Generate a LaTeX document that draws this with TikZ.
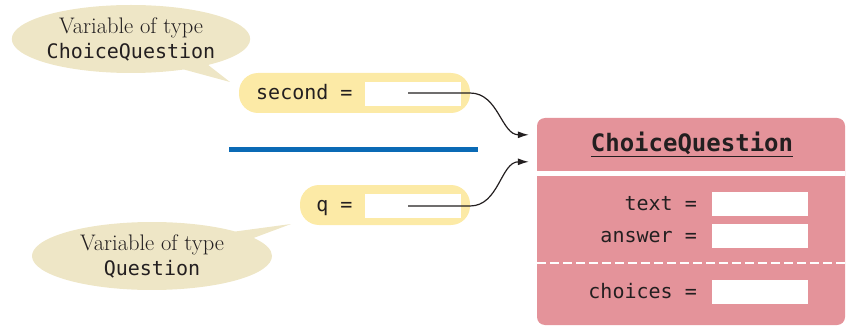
\documentclass[tikz,border=0pt]{standalone}
\usepackage{fontspec}
\newfontfamily\monofont{DejaVu Sans Mono}
\usetikzlibrary{arrows.meta, positioning, calc, shapes.callouts}
\definecolor{noteclr}{HTML}{EEE6C6}
\definecolor{pillclr}{HTML}{FCEAA6}
\definecolor{objclr}{HTML}{E4939A}
\definecolor{lineclr}{HTML}{0A6AB5}
\definecolor{inkclr}{HTML}{231F20}

\begin{document}
\begin{tikzpicture}[x=1pt,y=-1pt,
  txt/.style={font=\fontsize{20}{25}\selectfont\monofont, text=inkclr, inner sep=0pt},
  note/.style={ellipse callout, fill=noteclr, inner sep=0pt, callout pointer arc=14,
    align=center, text=inkclr, font=\fontsize{22.5}{25}\selectfont},
  pill/.style={fill=pillclr, rounded corners=19pt, inner sep=0pt, minimum height=40},
  valbox/.style={fill=white, inner sep=0pt, minimum width=96, minimum height=24},
  ref/.style={line width=1.2pt, draw=inkclr, -{Latex[length=11pt,width=7pt]}, shorten >=1pt}]
  \useasboundingbox (0,0) rectangle (846,326);
  % variables
  \node[pill, minimum width=231] (secondpill) at (354.5,93) {};
  \node[pill, minimum width=170] (qpill) at (385,205) {};
  \node[valbox] (secondval) at (413,94) {};
  \node[valbox] (qval) at (413,206) {};
  \node[txt, anchor=base west] (secondlbl) at (256,99.5) {second =};
  \node[txt, anchor=base east] (qlbl) at (secondlbl.base east |- 0,211) {q =};
  \draw[lineclr, line width=5pt] (229,150) -- (478,150);
  % object
  \node[fill=objclr, rounded corners=8pt, inner sep=0pt, minimum width=308, minimum height=207] (obj) at (691,221.5) {};
  \draw[white, line width=5pt] (obj.west |- 0,173.5) -- (obj.east |- 0,173.5);
  \draw[white, line width=2pt, dash pattern=on 9pt off 4pt] (obj.west |- 0,263) -- (obj.east |- 0,263);
  \node[font=\fontsize{24}{28}\selectfont\monofont\bfseries, text=inkclr, inner sep=0pt, anchor=base] (title) at (692,151.5) {\underline{ChoiceQuestion}};
  \node[valbox] (textval) at (760,204) {};
  \node[valbox] (answerval) at (760,236) {};
  \node[valbox] (choicesval) at (760,291.5) {};
  \node[txt, anchor=base east] (textlbl) at (697,210.5) {text =};
  \node[txt, anchor=base east] (answerlbl) at (697,242.5) {answer =};
  \node[txt, anchor=base east] (choiceslbl) at (697,298) {choices =};
  % references
  \coordinate (secondref) at (408,93);
  \coordinate (qref) at (408,206);
  \coordinate (secondend) at ($(obj.north west)+(-7,17)$);
  \coordinate (qend) at ($(obj.north west)+(-7,44)$);
  \draw[ref] (secondref) -- (470,93) to[out=0,in=180] (secondend);
  \draw[ref] (qref) -- (470,206) to[out=0,in=180] (qend);
  % notes
  \node[note, minimum width=238, minimum height=68, callout absolute pointer={(230,82)}] (secondnote) at (131,39)
    {Variable of type\\{\fontsize{20}{25}\selectfont\monofont ChoiceQuestion}};
  \node[note, minimum width=240, minimum height=68, callout absolute pointer={(291,224)}] (qnote) at (152,256)
    {Variable of type\\{\fontsize{20}{25}\selectfont\monofont Question}};
\end{tikzpicture}
\end{document}
